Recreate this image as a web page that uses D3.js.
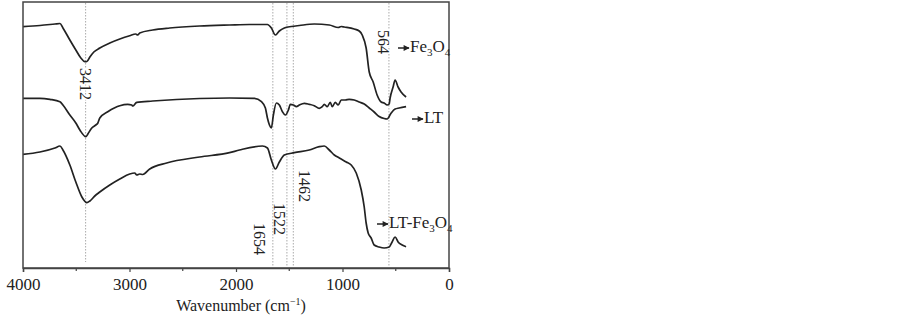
<!DOCTYPE html>
<html>
<head>
<meta charset="utf-8">
<script src="https://cdn.jsdelivr.net/npm/d3@7"></script>
<style>
    body { margin: 0; background: #fff; }
    text { font-family: "Liberation Serif", "Times New Roman", serif; fill: #222; }
</style>
</head>
<body>
<div class="container"></div>
<script>
// FTIR spectra, transmittance in arbitrary units (curves are offset)
const fe3o4Wn = [4000, 3841, 3700, 3653, 3625, 3560, 3504, 3457, 3419, 3400, 3372, 3335, 3279, 3185, 3091, 2998, 2942, 2923, 2904, 2782, 2623, 2342, 2061, 1874, 1705, 1668, 1630, 1593, 1546, 1480, 1405, 1265, 1124, 1040, 1012, 984, 890, 843, 815, 778, 749, 712, 675, 637, 609, 581, 562, 553, 525, 506, 478, 450, 403];
const fe3o4T = [241.3, 242.5, 244, 244.5, 240, 228, 218, 210, 206.3, 206.5, 211, 216, 220, 225, 229, 232.3, 234, 233, 235, 238, 240, 242, 243, 243.5, 243.5, 240, 233, 237, 240, 241.5, 242.5, 244, 243, 240.5, 241.5, 241, 239, 237, 233, 220, 196, 186, 173, 166, 165, 163, 164, 170, 181, 188, 181, 176, 171];

const ltWn = [4000, 3841, 3747, 3653, 3625, 3560, 3504, 3466, 3410, 3391, 3354, 3316, 3297, 3279, 3204, 3138, 3091, 3017, 2979, 2970, 2932, 2782, 2342, 2061, 1827, 1761, 1724, 1705, 1686, 1668, 1649, 1621, 1593, 1564, 1536, 1508, 1490, 1461, 1433, 1405, 1358, 1312, 1265, 1218, 1190, 1171, 1143, 1115, 1096, 1068, 1040, 1012, 974, 937, 890, 843, 796, 749, 703, 656, 609, 581, 543, 506, 468, 403];
const ltT = [169.7, 169.7, 168.7, 166.3, 163, 153, 145, 138, 131.3, 134, 140, 143, 145, 150, 156.3, 160.3, 162.3, 163.7, 163, 162, 165.7, 167, 169.5, 170, 169.7, 166.3, 160, 150, 143, 140, 153, 165, 163, 156.3, 153, 158, 163.7, 163, 161.3, 163, 164.7, 163.7, 162.3, 159.7, 161.3, 163.7, 161.3, 165.7, 161.3, 165.7, 163, 168, 168, 168.7, 168, 166, 164, 160, 156, 151.5, 149.5, 149, 155, 159, 160, 161.3];

const ltFeWn = [4000, 3841, 3700, 3653, 3625, 3560, 3504, 3447, 3400, 3372, 3326, 3279, 3185, 3091, 2998, 2951, 2932, 2904, 2876, 2810, 2651, 2342, 2061, 1967, 1752, 1705, 1668, 1630, 1593, 1546, 1452, 1312, 1218, 1171, 1124, 1077, 1030, 965, 918, 871, 824, 796, 778, 759, 731, 703, 656, 609, 562, 534, 506, 478, 440, 403];
const ltFeT = [113.7, 116, 120, 122, 118, 103, 86, 71, 65.3, 67, 72, 76, 83, 89, 94, 95, 93, 94, 93.5, 99, 105, 111, 115.3, 118, 122, 120, 108, 99, 106, 113, 115.3, 118, 121.3, 122, 118, 113, 110, 106, 103, 95, 78, 61, 45, 35, 30, 23, 21, 20, 21, 26, 31, 26, 23, 21.3];

const peakWn = [3412, 1654, 1522, 1462, 564];
const peakLabels = ['3412', '1654', '1522', '1462', '564'];
const xTicks = [4000, 3000, 2000, 1000, 0];
const xMinorTicks = [3500, 2500, 1500, 500];

const width = 903;
const height = 315;
const plotLeft = 23, plotRight = 449, plotTop = 2, plotBottom = 268;

const svg = d3.select('.container')
    .append('svg')
    .attr('width', width)
    .attr('height', height);

const x = d3.scaleLinear().domain([4000, 0]).range([plotLeft, plotRight]);
const y = d3.scaleLinear().domain([0, 266]).range([plotBottom, plotTop]);

// dotted peak markers
const peakLayout = [
    { dx: 0, y: 68, halo: true },
    { dx: -13, y: 223 },
    { dx: -7, y: 203 },
    { dx: 11, y: 170 },
    { dx: -5, y: 30, halo: true },
];

svg.selectAll('.peak')
    .data(peakWn)
    .enter()
    .append('line')
    .attr('class', 'peak')
    .attr('x1', d => x(d))
    .attr('x2', d => x(d))
    .attr('y1', plotTop + 1)
    .attr('y2', (d, i) => i === 0 ? 262 : 266)
    .attr('stroke', '#aaa')
    .attr('stroke-width', 1)
    .attr('stroke-dasharray', '1.5,1.5');

// spectra
const line = d3.line()
    .x(d => x(d[0]))
    .y(d => y(d[1]))
    .curve(d3.curveMonotoneX);

const series = [
    d3.zip(fe3o4Wn, fe3o4T),
    d3.zip(ltWn, ltT),
    d3.zip(ltFeWn, ltFeT),
];

svg.selectAll('.spectrum')
    .data(series)
    .enter()
    .append('path')
    .attr('class', 'spectrum')
    .attr('d', line)
    .attr('fill', 'none')
    .attr('stroke', '#222')
    .attr('stroke-width', 1.7);

// frame
svg.append('rect')
    .attr('x', plotLeft)
    .attr('y', plotTop)
    .attr('width', plotRight - plotLeft)
    .attr('height', plotBottom - plotTop)
    .attr('fill', 'none')
    .attr('stroke', '#444')
    .attr('stroke-width', 1.5);

// bottom axis
const xAxis = d3.axisBottom(x)
    .tickValues(xTicks)
    .tickFormat(d3.format('d'))
    .tickSize(4)
    .tickPadding(6);

const gx = svg.append('g')
    .attr('transform', `translate(0,${plotBottom})`)
    .call(xAxis);
gx.select('.domain').attr('stroke', '#444').attr('stroke-width', 1.5);
gx.selectAll('.tick line').attr('stroke', '#444').attr('stroke-width', 1.2);
gx.selectAll('.tick text')
    .attr('font-size', 17)
    .attr('font-family', '"Liberation Serif", serif')
    .attr('fill', '#222');

gx.selectAll('.minor')
    .data(xMinorTicks)
    .enter()
    .append('line')
    .attr('class', 'minor')
    .attr('x1', d => x(d))
    .attr('x2', d => x(d))
    .attr('y1', 0)
    .attr('y2', 3)
    .attr('stroke', '#444')
    .attr('stroke-width', 1.2);

const title = svg.append('text')
    .attr('x', 241)
    .attr('y', 311)
    .attr('text-anchor', 'middle')
    .attr('font-size', 16);
title.append('tspan').text('Wavenumber (cm');
title.append('tspan').attr('font-size', 10).attr('dy', -6).text('−1');
title.append('tspan').attr('dy', 6).text(')');

// peak labels (rotated)
svg.selectAll('.peak-label')
    .data(peakLabels)
    .enter()
    .append('text')
    .attr('class', 'peak-label')
    .attr('transform', (d, i) => `translate(${x(peakWn[i]) + peakLayout[i].dx},${peakLayout[i].y}) rotate(90)`)
    .attr('dy', '0.35em')
    .attr('font-size', 16)
    .attr('stroke', (d, i) => peakLayout[i].halo ? '#fff' : 'none')
    .attr('stroke-width', 3)
    .attr('paint-order', 'stroke')
    .text(d => d);

// series labels with arrows
const seriesLabels = [
    { parts: [['Fe', 0], ['3', 1], ['O', 0], ['4', 1]], ax: 398, ay: 48 },
    { parts: [['LT', 0]], ax: 412, ay: 119 },
    { parts: [['LT-Fe', 0], ['3', 1], ['O', 0], ['4', 1]], ax: 377, ay: 224 },
];

svg.append('defs').append('marker')
    .attr('id', 'head')
    .attr('viewBox', '0 0 10 10')
    .attr('refX', 9)
    .attr('refY', 5)
    .attr('markerWidth', 7)
    .attr('markerHeight', 6)
    .attr('markerUnits', 'userSpaceOnUse')
    .attr('orient', 'auto')
    .append('path')
    .attr('d', 'M0,0L10,5L0,10Z')
    .attr('fill', '#222');

seriesLabels.forEach(s => {
    svg.append('line')
        .attr('x1', s.ax)
        .attr('x2', s.ax + 11)
        .attr('y1', s.ay)
        .attr('y2', s.ay)
        .attr('stroke', '#222')
        .attr('stroke-width', 1.5)
        .attr('marker-end', 'url(#head)');

    const t = svg.append('text')
        .attr('x', s.ax + 12)
        .attr('y', s.ay + 4)
        .attr('font-size', 17);
    let sub = false;
    s.parts.forEach(([txt, isSub]) => {
        const ts = t.append('tspan').text(txt);
        if (isSub && !sub) { ts.attr('dy', 4).attr('font-size', 11); sub = true; }
        else if (isSub) { ts.attr('font-size', 11); }
        else if (sub) { ts.attr('dy', -4); sub = false; }
    });
});
</script>
</body>
</html>
